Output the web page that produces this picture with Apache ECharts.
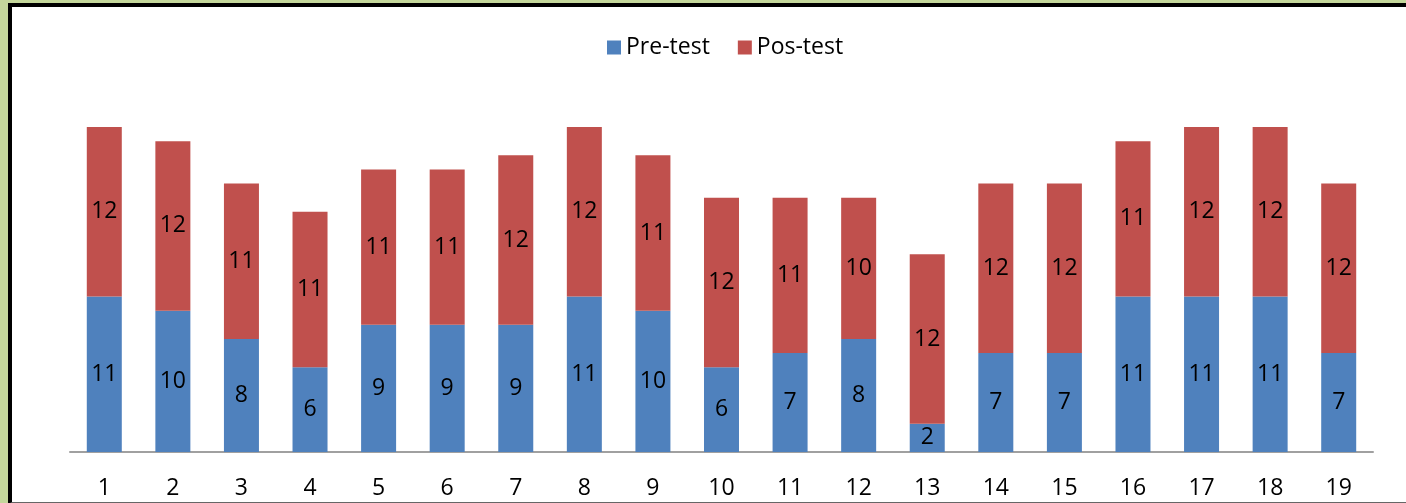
<!DOCTYPE html>
<html>
<head>
<meta charset="utf-8">
<script src="https://cdn.jsdelivr.net/npm/echarts@6/dist/echarts.min.js"></script>
<style>
  html, body { margin: 0; padding: 0; width: 1406px; height: 503px; overflow: hidden; background: #c4d79b; }
  #panel { position: absolute; left: 8px; top: 3px; width: 1500px; height: 495px; background: #fff;
           border-left: 4px solid #000; border-top: 4px solid #000; border-bottom: 2px solid #666; }
  #chart { position: absolute; left: 0; top: 0; width: 1406px; height: 503px; }
</style>
</head>
<body>
<div id="panel"></div>
<div id="chart"></div>
<script>
const categories = ['1','2','3','4','5','6','7','8','9','10','11','12','13','14','15','16','17','18','19'];
const preTest = [11,10,8,6,9,9,9,11,10,6,7,8,2,7,7,11,11,11,7];
const posTest = [12,12,11,11,11,11,12,12,11,12,11,10,12,12,12,11,12,12,12];

const FONT = '"Open Sans", "Liberation Sans", sans-serif';
const chart = echarts.init(document.getElementById('chart'), null, { renderer: 'canvas' });
const labelStyle = { show: true, position: 'inside', color: '#000', fontSize: 23, fontFamily: FONT };
chart.setOption({
  backgroundColor: 'transparent',
  animation: false,
  legend: {
    left: 602, top: 31,
    itemWidth: 14, itemHeight: 14, itemGap: 28,
    icon: 'rect',
    textStyle: { fontSize: 23, fontFamily: FONT, color: '#000' },
    data: ['Pre-test', 'Pos-test']
  },
  grid: { left: 70, right: 33, top: 127, bottom: 51, containLabel: false },
  xAxis: {
    type: 'category',
    data: categories,
    axisLine: { lineStyle: { color: '#a0a0a0', width: 2 } },
    axisTick: { show: false },
    axisLabel: { color: '#000', fontSize: 23, fontFamily: FONT, margin: 25 }
  },
  yAxis: {
    type: 'value', min: 0, max: 23,
    show: false,
    splitLine: { show: false }
  },
  series: [
    { name: 'Pre-test', type: 'bar', stack: 'total', data: preTest, barWidth: 35,
      itemStyle: { color: '#4f81bd' }, label: labelStyle },
    { name: 'Pos-test', type: 'bar', stack: 'total', data: posTest, barWidth: 35,
      itemStyle: { color: '#c0504d' }, label: labelStyle }
  ]
});
</script>
</body>
</html>
